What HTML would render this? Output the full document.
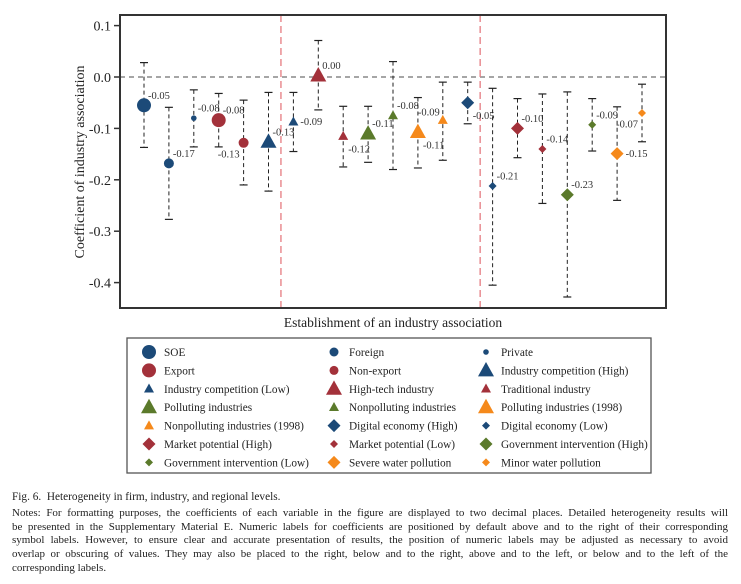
<!DOCTYPE html>
<html><head><meta charset="utf-8"><style>
body{margin:0;background:#fff;width:741px;height:584px;overflow:hidden;font-family:"Liberation Serif",serif}
#cap{position:absolute;left:12px;top:491px;width:716px;font-size:11px;line-height:13.8px;color:#222}
#cap .j{text-align:justify;text-align-last:justify}
</style></head><body>
<svg id="chart" width="741" height="484" style="position:absolute;left:0;top:0" font-family="Liberation Serif, serif"></svg>
<div id="cap">
<div style="font-size:11.3px;margin-bottom:2px">Fig. 6.&nbsp; Heterogeneity in firm, industry, and regional levels.</div>
<div class="j">Notes: For formatting purposes, the coefficients of each variable in the figure are displayed to two decimal places. Detailed heterogeneity results will</div>
<div class="j">be presented in the Supplementary Material E. Numeric labels for coefficients are positioned by default above and to the right of their corresponding</div>
<div class="j">symbol labels. However, to ensure clear and accurate presentation of results, the position of numeric labels may be adjusted as necessary to avoid</div>
<div class="j">overlap or obscuring of values. They may also be placed to the right, below and to the right, above and to the left, or below and to the left of the</div>
<div>corresponding labels.</div>
</div>
<script>
const categories=["SOE","Foreign","Private","Export","Non-export","Industry competition (High)","Industry competition (Low)","High-tech industry","Traditional industry","Polluting industries","Nonpolluting industries","Polluting industries (1998)","Nonpolluting industries (1998)","Digital economy (High)","Digital economy (Low)","Market potential (High)","Market potential (Low)","Government intervention (High)","Government intervention (Low)","Severe water pollution","Minor water pollution"];
const coef=[-0.055,-0.168,-0.080,-0.084,-0.128,-0.126,-0.087,0.003,-0.115,-0.110,-0.075,-0.107,-0.084,-0.050,-0.212,-0.100,-0.140,-0.229,-0.093,-0.149,-0.070];
const ciHigh=[0.028,-0.059,-0.025,-0.032,-0.045,-0.030,-0.030,0.071,-0.057,-0.057,0.030,-0.040,-0.010,-0.010,-0.022,-0.042,-0.033,-0.029,-0.042,-0.058,-0.014];
const ciLow=[-0.137,-0.277,-0.136,-0.136,-0.210,-0.222,-0.145,-0.064,-0.175,-0.166,-0.180,-0.177,-0.162,-0.091,-0.405,-0.157,-0.246,-0.428,-0.144,-0.240,-0.126];
const valueLabels=["-0.05","-0.17","-0.08","-0.08","-0.13","-0.13","-0.09","0.00","-0.12","-0.11","-0.08","-0.11","-0.09","-0.05","-0.21","-0.10","-0.14","-0.23","-0.09","-0.15","-0.07"];
const yTicks=[0.1,0.0,-0.1,-0.2,-0.3,-0.4];
const yTickLabels=["0.1","0.0","-0.1","-0.2","-0.3","-0.4"];
const dividers=[5.5,13.5];
// styles
const shapes=["c","c","c","c","c","t","t","t","t","t","t","t","t","d","d","d","d","d","d","d","d"];
const colors=["#1c4a78","#1c4a78","#1c4a78","#a3313a","#a3313a","#1c4a78","#1c4a78","#a3313a","#a3313a","#5b7a2b","#5b7a2b","#f5891b","#f5891b","#1c4a78","#1c4a78","#a3313a","#a3313a","#5b7a2b","#5b7a2b","#f5891b","#f5891b"];
const sizes=[7,5,2.8,7,5,8,5,8,5,8,5,8,5,6.5,4,6.5,4,6.5,4,6.5,4];
const pos=["ar","ar","ar","ar","bl","ar","r","ar","br","ar","ar","br","al","br","ar","ar","ar","ar","ar","r","bl"];
const legendSizes=[7,4.5,2.8,7,4.5,8,5,8,5,8,5,8,5,6.5,4,6.5,4,6.5,4,6.5,4];
const legendOrder=[0,1,2,3,4,5,6,7,8,9,10,11,12,13,14,15,16,17,18,19,20];
const legendNames=["SOE","Foreign","Private","Export","Non-export","Industry competition (High)","Industry competition (Low)","High-tech industry","Traditional industry","Polluting industries","Nonpolluting industries","Polluting industries (1998)","Nonpolluting industries (1998)","Digital economy (High)","Digital economy (Low)","Market potential (High)","Market potential (Low)","Government intervention (High)","Government intervention (Low)","Severe water pollution","Minor water pollution"];
const L=120,R=666,T=15,B=308;
const y=v=>77-v*514;
const x=i=>144+i*24.9;
const svg=document.getElementById('chart');
const NS="http://www.w3.org/2000/svg";
function mk(t,a,p){const e=document.createElementNS(NS,t);for(const k in a)e.setAttribute(k,a[k]);(p||svg).appendChild(e);return e;}
function marker(shape,cx,cy,s,col,p){
  if(shape==="c")return mk('circle',{cx:cx,cy:cy,r:s,fill:col},p);
  if(shape==="t")return mk('polygon',{points:`${cx},${cy-s*1.05} ${cx-s},${cy+s*0.75} ${cx+s},${cy+s*0.75}`,fill:col},p);
  return mk('polygon',{points:`${cx},${cy-s} ${cx+s},${cy} ${cx},${cy+s} ${cx-s},${cy}`,fill:col},p);
}
let e=mk('line',{x1:L,x2:R,y1:y(0),y2:y(0),stroke:"#888","stroke-width":1.5,"stroke-dasharray":"5,4"});

dividers.forEach(d=>{const l=mk('line',{x1:x(d),x2:x(d),y1:T,y2:B,stroke:"#e57b80","stroke-width":1.3,"stroke-dasharray":"7,4"});
});
yTicks.forEach((t,i)=>{mk('line',{x1:114,x2:L,y1:y(t),y2:y(t),stroke:"#333","stroke-width":1.5});
const tx=mk('text',{x:111,y:y(t)+5,"text-anchor":"end","font-size":14,fill:"#222"});tx.textContent=yTickLabels[i];
});
categories.forEach((c,i)=>{
  const g=mk('g',{});
  
  
  const cx=x(i);
  mk('line',{x1:cx,x2:cx,y1:y(ciHigh[i]),y2:y(ciLow[i]),stroke:"#222","stroke-width":1,"stroke-dasharray":"4,3"},g);
  [ciHigh[i],ciLow[i]].forEach(v=>mk('line',{x1:cx-4,x2:cx+4,y1:y(v),y2:y(v),stroke:"#222","stroke-width":1.2},g));
  marker(shapes[i],cx,y(coef[i]),sizes[i],colors[i],g);
  const p=pos[i];let dx=4,dy=-10,anc="start";
  if(p==="r"){dx=sizes[i]+2;dy=0;}
  if(p==="br"){dx=5;dy=13;}
  if(p==="bl"){dx=-4;dy=11;anc="end";}
  if(p==="al"){dx=-3;dy=-8;anc="end";}
  const t=mk('text',{x:cx+dx,y:y(coef[i])+dy+3.5,"font-size":10.5,fill:"#333","text-anchor":anc},g);t.textContent=valueLabels[i];
});
e=mk('rect',{x:L,y:T,width:R-L,height:B-T,fill:"none",stroke:"#333","stroke-width":2});

e=mk('text',{x:0,y:0,transform:"translate(84,162) rotate(-90)","text-anchor":"middle","font-size":14,fill:"#222"});e.textContent="Coefficient of industry association";

e=mk('text',{x:393,y:327,"text-anchor":"middle","font-size":13.5,fill:"#222"});e.textContent="Establishment of an industry association";

const lg=mk('g',{});
mk('rect',{x:127,y:338,width:524,height:135,fill:"#fff",stroke:"#555","stroke-width":1.3},lg);
const colX=[149,334,486];
legendOrder.forEach((k,j)=>{
  const r=Math.floor(j/3),c=j%3,cy=352+r*18.4;
  const g=mk('g',{},lg);
  marker(shapes[k],colX[c],cy,legendSizes[k],colors[k],g);
  const t=mk('text',{x:colX[c]+15,y:cy+4,"font-size":11.3,fill:"#222"},g);t.textContent=legendNames[k];
});
</script>
</body></html>
